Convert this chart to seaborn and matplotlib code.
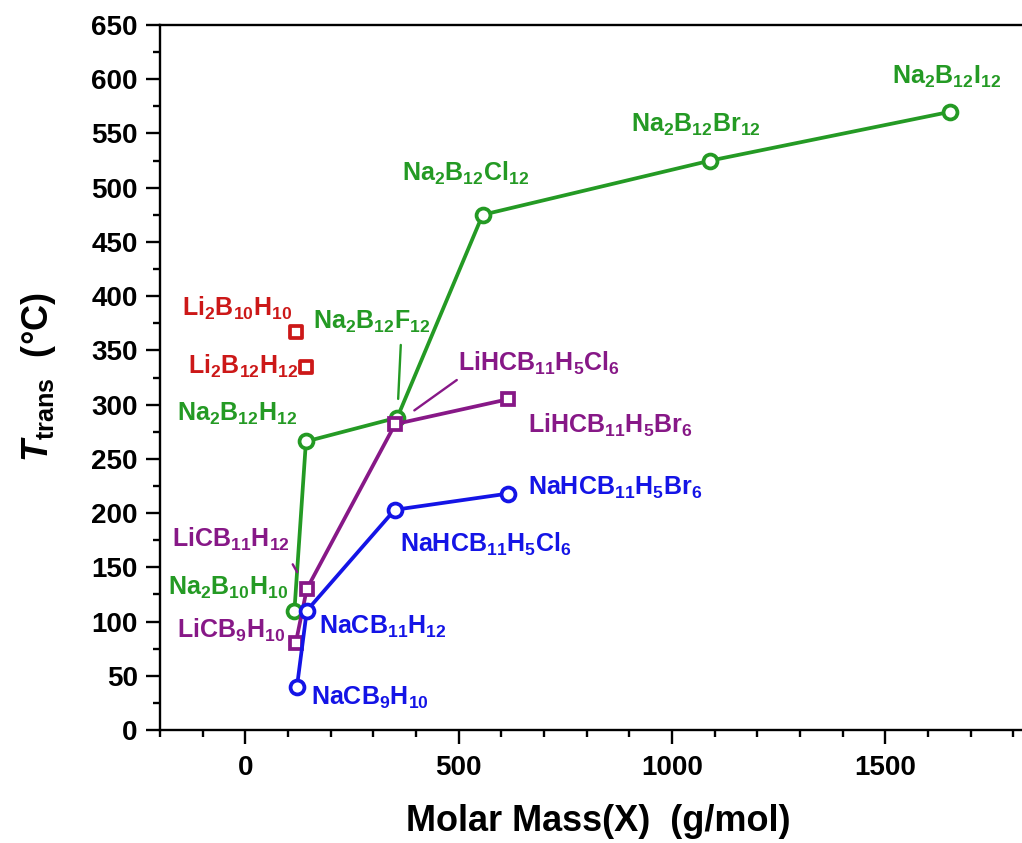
import matplotlib
matplotlib.use("Agg")
import matplotlib.pyplot as plt
from matplotlib.ticker import MultipleLocator
import pandas as pd
import seaborn as sns

# Phase-transition temperature vs. molar mass of the anion (X)
na_closo_names = [r"$Na_2B_{10}H_{10}$", r"$Na_2B_{12}H_{12}$", r"$Na_2B_{12}F_{12}$",
                  r"$Na_2B_{12}Cl_{12}$", r"$Na_2B_{12}Br_{12}$", r"$Na_2B_{12}I_{12}$"]
na_closo_mass = [115, 142, 356, 556, 1090, 1652]
na_closo_temp = [110, 266, 288, 475, 525, 570]

li_carba_names = [r"$LiCB_9H_{10}$", r"$LiCB_{11}H_{12}$",
                  r"$LiHCB_{11}H_5Cl_6$", r"$LiHCB_{11}H_5Br_6$"]
li_carba_mass = [118, 144, 351, 616]
li_carba_temp = [80, 130, 282, 305]

na_carba_names = [r"$NaCB_9H_{10}$", r"$NaCB_{11}H_{12}$",
                  r"$NaHCB_{11}H_5Cl_6$", r"$NaHCB_{11}H_5Br_6$"]
na_carba_mass = [121, 144, 350, 616]
na_carba_temp = [40, 110, 203, 218]

li_closo_names = [r"$Li_2B_{10}H_{10}$", r"$Li_2B_{12}H_{12}$"]
li_closo_mass = [119, 142]
li_closo_temp = [367, 335]

GREEN = "#249a24"
PURPLE = "#871887"
BLUE = "#1414e6"
RED = "#cc1818"

sns.set_style("ticks")
plt.rcParams["font.family"] = ["Liberation Sans", "DejaVu Sans"]
plt.rcParams["font.weight"] = "bold"
plt.rcParams["text.color"] = "black"
plt.rcParams["axes.labelcolor"] = "black"
plt.rcParams["xtick.color"] = "black"
plt.rcParams["ytick.color"] = "black"
plt.rcParams["mathtext.fontset"] = "custom"
plt.rcParams["mathtext.rm"] = "Liberation Sans:bold"
plt.rcParams["mathtext.bf"] = "Liberation Sans:bold"
plt.rcParams["mathtext.it"] = "Liberation Sans:bold:italic"
plt.rcParams["mathtext.default"] = "rm"

fig = plt.figure(figsize=(10.22, 8.43), dpi=100)
ax = fig.add_axes([160 / 1022, 1 - 730 / 843, 862 / 1022, 705 / 843])

line_style = dict(linewidth=2.7, markeredgewidth=2.7,
                  markerfacecolor="white", sort=False, estimator=None)

series = [
    (na_closo_mass, na_closo_temp, GREEN, "o"),
    (li_carba_mass, li_carba_temp, PURPLE, "s"),
    (na_carba_mass, na_carba_temp, BLUE, "o"),
]
for mass, temp, color, mk in series:
    df = pd.DataFrame({"mass": mass, "temp": temp})
    sns.lineplot(data=df, x="mass", y="temp", ax=ax, color=color, marker=mk,
                 markeredgecolor=color, markersize=10 if mk == "o" else 9,
                 **line_style)

df_red = pd.DataFrame({"mass": li_closo_mass, "temp": li_closo_temp})
sns.scatterplot(data=df_red, x="mass", y="temp", ax=ax, marker="s", s=80,
                facecolor="white", edgecolor=RED, linewidth=2.7, zorder=3)

# label offsets (pixels) from each point, plus optional leader lines
label_offsets = {
    na_closo_names[0]: (-126, 23), na_closo_names[1]: (-129, 28),
    na_closo_names[2]: (-84, 96), na_closo_names[3]: (-81, 41),
    na_closo_names[4]: (-79, 36), na_closo_names[5]: (-58, 35),
    li_carba_names[0]: (-119, 13), li_carba_names[1]: (-135, 50),
    li_carba_names[2]: (63, 61), li_carba_names[3]: (20, -26),
    na_carba_names[0]: (14, -11), na_carba_names[1]: (12, -16),
    na_carba_names[2]: (5, -35), na_carba_names[3]: (20, 6),
    li_closo_names[0]: (-114, 24), li_closo_names[1]: (-118, 0),
}
leaders = {
    na_closo_names[2]: dict(relpos=(0.75, 0.0), shrinkA=5, shrinkB=13.5),
    li_carba_names[2]: dict(relpos=(0.02, 0.0), shrinkA=0, shrinkB=17),
    li_carba_names[1]: dict(relpos=(0.97, 0.0), shrinkA=7, shrinkB=14),
}

groups = [
    (na_closo_names, na_closo_mass, na_closo_temp, GREEN),
    (li_carba_names, li_carba_mass, li_carba_temp, PURPLE),
    (na_carba_names, na_carba_mass, na_carba_temp, BLUE),
    (li_closo_names, li_closo_mass, li_closo_temp, RED),
]
for names, mass, temp, color in groups:
    for name, m, t in zip(names, mass, temp):
        dx, dy = label_offsets[name]
        arrow = None
        if name in leaders:
            arrow = dict(arrowstyle="-", color=color, lw=1.7, **leaders[name])
        ax.annotate(name, xy=(m, t), xytext=(dx, dy), textcoords="offset pixels",
                    ha="left", va="center", fontsize=18, color=color,
                    arrowprops=arrow)

ax.set_xlim(-200, 1820)
ax.set_ylim(0, 650)
ax.xaxis.set_major_locator(MultipleLocator(500))
ax.xaxis.set_minor_locator(MultipleLocator(100))
ax.yaxis.set_major_locator(MultipleLocator(50))
ax.yaxis.set_minor_locator(MultipleLocator(25))
ax.tick_params(which="major", direction="out", length=10, width=1.7,
               labelsize=20, color="black", labelcolor="black")
ax.tick_params(which="minor", direction="out", length=5, width=1.7, color="black")
ax.tick_params(axis="x", pad=8)
ax.tick_params(axis="y", pad=6)
for lbl in ax.get_xticklabels() + ax.get_yticklabels():
    lbl.set_fontweight("bold")

for side in ["left", "bottom", "top"]:
    ax.spines[side].set_linewidth(1.7)
    ax.spines[side].set_color("black")
ax.spines["right"].set_visible(False)

ax.set_xlabel("Molar Mass(X)  (g/mol)", fontsize=26, fontweight="bold")
ax.set_ylabel(r"$\mathit{T}_{\mathrm{trans}}$  (°C)", fontsize=26, fontweight="bold")
ax.xaxis.set_label_coords(0.508, -0.105)
ax.yaxis.set_label_coords(-0.118, 0.50)

fig.savefig("out.png", dpi=100, facecolor="white")
